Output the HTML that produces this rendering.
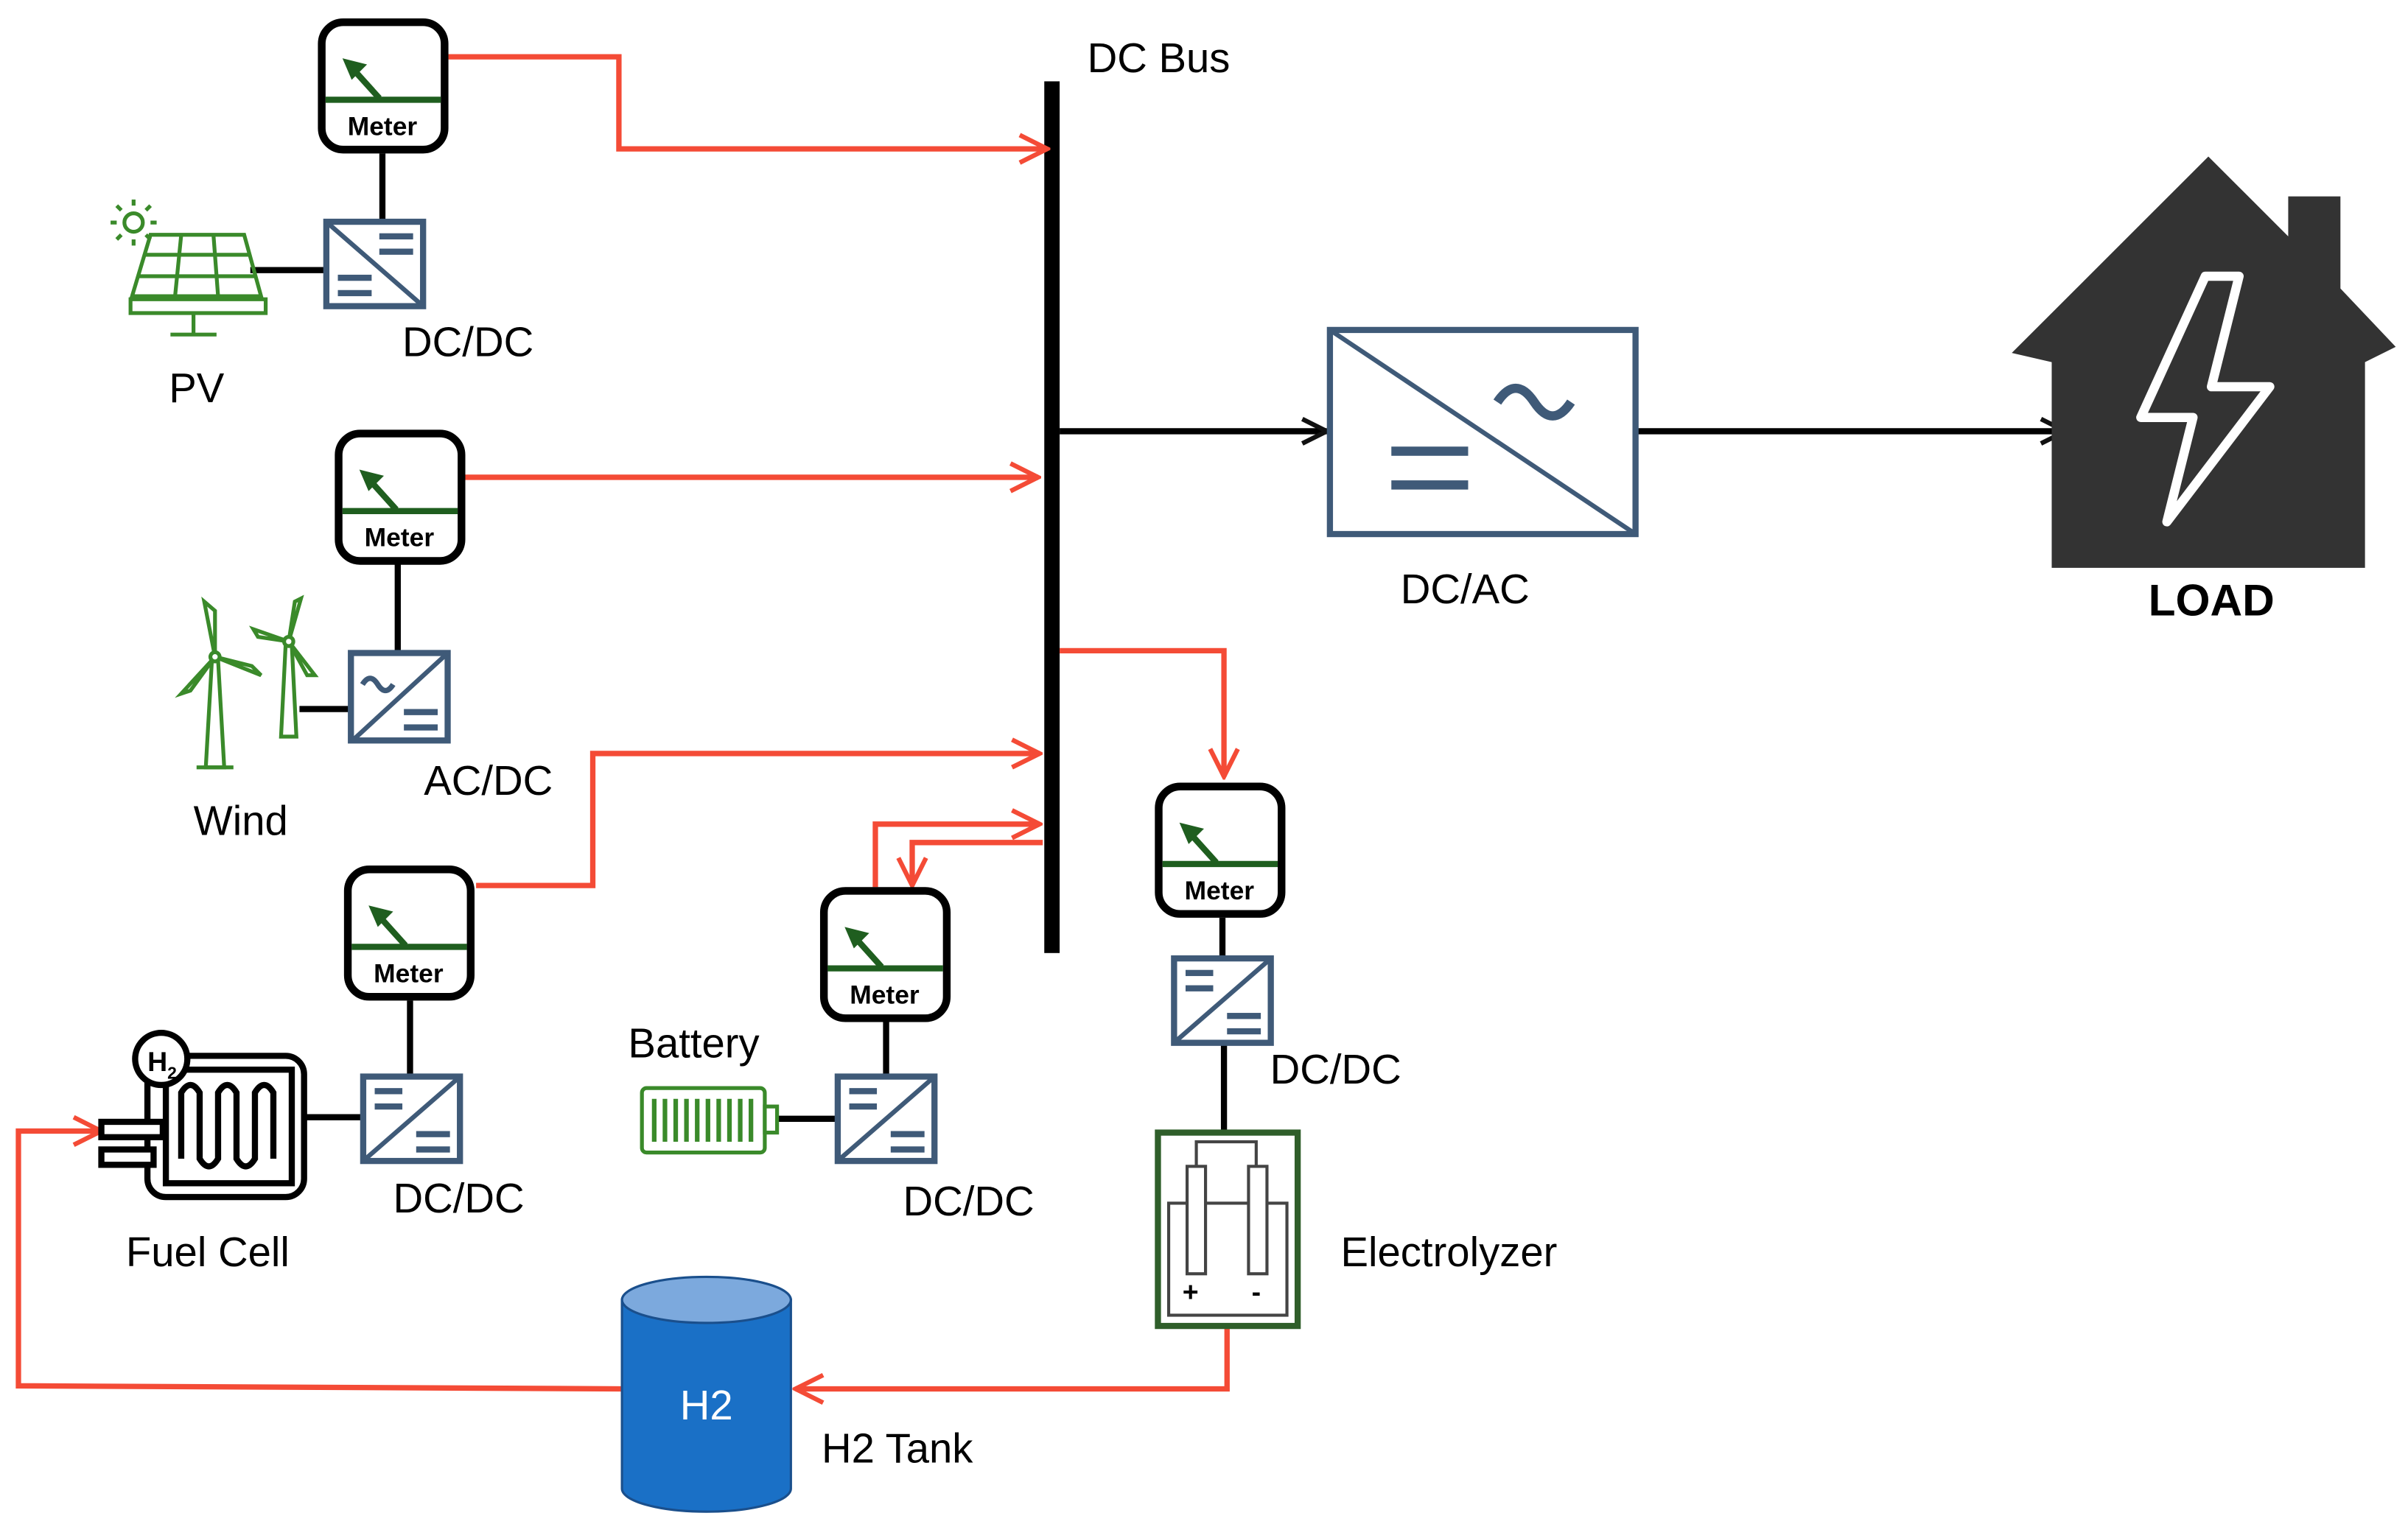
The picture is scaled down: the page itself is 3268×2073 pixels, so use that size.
<!DOCTYPE html>
<html><head><meta charset="utf-8"><style>html,body{margin:0;padding:0;background:#fff}svg{display:block}text{font-family:"Liberation Sans",sans-serif}</style></head><body>
<svg width="3268" height="2073" viewBox="0 0 1568 995" preserveAspectRatio="none" xmlns="http://www.w3.org/2000/svg">
<defs>
<marker id="ar" markerWidth="10" markerHeight="10" refX="9" refY="5" orient="auto" markerUnits="userSpaceOnUse" viewBox="0 0 10 10"><path d="M0,0 L10,5 L0,10" fill="none" stroke="#f44b36" stroke-width="2.5"/></marker>
<marker id="ab" markerWidth="20" markerHeight="20" refX="18" refY="10" orient="auto" markerUnits="userSpaceOnUse"><path d="M2,2 L18,10 L2,18" fill="none" stroke="#111" stroke-width="3"/></marker>
<marker id="arl" markerWidth="22" markerHeight="22" refX="20" refY="11" orient="auto" markerUnits="userSpaceOnUse"><path d="M2,2 L20,11 L2,20" fill="none" stroke="#f44b36" stroke-width="3"/></marker>
<g id="meter">
<rect x="2.5" y="2.5" width="80" height="83" rx="14" fill="#fff" stroke="#000" stroke-width="5"/>
<line x1="5" y1="53" x2="80" y2="53" stroke="#1f5e1f" stroke-width="4"/>
<line x1="40" y1="52" x2="22" y2="32" stroke="#1f5e1f" stroke-width="4"/>
<path d="M16,26 L32,30 L22,40 Z" fill="#1f5e1f"/>
<text x="42" y="76" font-size="17" font-weight="bold" text-anchor="middle">Meter</text>
</g>
<g id="dcdc">
<rect x="1.5" y="1.5" width="63" height="55" fill="#fff" stroke="#3f5a78" stroke-width="4"/>
<line x1="2" y1="2" x2="64" y2="56" stroke="#3f5a78" stroke-width="3"/>
<rect x="36" y="9" width="22" height="4" fill="#3f5a78"/><rect x="36" y="19" width="22" height="4" fill="#3f5a78"/>
<rect x="9" y="36" width="22" height="4" fill="#3f5a78"/><rect x="9" y="46" width="22" height="4" fill="#3f5a78"/>
</g>
<g id="dcdc2">
<rect x="1.5" y="1.5" width="63" height="55" fill="#fff" stroke="#3f5a78" stroke-width="4"/>
<line x1="64" y1="2" x2="2" y2="56" stroke="#3f5a78" stroke-width="3"/>
<rect x="9" y="9" width="18" height="4" fill="#3f5a78"/><rect x="9" y="19" width="18" height="4" fill="#3f5a78"/>
<rect x="36" y="37" width="22" height="4" fill="#3f5a78"/><rect x="36" y="47" width="22" height="4" fill="#3f5a78"/>
</g>
</defs>

<!-- DC bus -->
<rect x="680" y="53" width="10" height="568" fill="#000"/>
<text x="708" y="47" font-size="27">DC Bus</text>

<!-- red connectors -->
<g fill="none" stroke="#f44b36" stroke-width="3.5">
<polyline points="292,37 403,37 403,97 682,97" marker-end="url(#arl)"/>
<polyline points="303,311 676,311" marker-end="url(#arl)"/>
<polyline points="310,577 386,577 386,491 677,491" marker-end="url(#arl)"/>
<polyline points="570,578 570,537 677,537" marker-end="url(#arl)"/>
<polyline points="679,549 594,549 594,577" marker-end="url(#arl)"/>
<polyline points="690,424 797,424 797,506" marker-end="url(#arl)"/>
<polyline points="799,865 799,905 518,905" marker-end="url(#arl)"/>
<polyline points="405,905 12,903 12,737 66,737" marker-end="url(#arl)"/>
</g>

<!-- black connectors -->
<g stroke="#000" stroke-width="4" fill="none">
<line x1="690" y1="281" x2="864" y2="281" marker-end="url(#ab)"/>
<line x1="1066" y1="281" x2="1345" y2="281" marker-end="url(#ab)"/>
<line x1="249" y1="100" x2="249" y2="143"/>
<line x1="163" y1="176" x2="211" y2="176"/>
<line x1="259" y1="366" x2="259" y2="424"/>
<line x1="195" y1="462" x2="227" y2="462"/>
<line x1="267" y1="652" x2="267" y2="700"/>
<line x1="198" y1="728" x2="235" y2="728"/>
<line x1="577" y1="666" x2="577" y2="700"/>
<line x1="507" y1="729" x2="544" y2="729"/>
<line x1="796" y1="598" x2="796" y2="623"/>
<line x1="797" y1="679" x2="797" y2="737"/>
</g>

<!-- meters -->
<use href="#meter" x="207" y="12"/>
<use href="#meter" x="218" y="280"/>
<use href="#meter" x="224" y="564"/>
<use href="#meter" x="534" y="578"/>
<use href="#meter" x="752" y="510"/>

<!-- converters -->
<use href="#dcdc" x="211" y="143"/>
<use href="#dcdc2" x="235" y="700"/>
<use href="#dcdc2" x="544" y="700"/>
<use href="#dcdc2" x="763" y="623"/>
<g transform="translate(227,424)">
<rect x="1.5" y="1.5" width="63" height="57" fill="#fff" stroke="#3f5a78" stroke-width="4"/>
<line x1="64" y1="2" x2="2" y2="59" stroke="#3f5a78" stroke-width="3"/>
<path d="M9,22 q5,-8 10,0 t10,0" fill="none" stroke="#3f5a78" stroke-width="3.5"/>
<rect x="36" y="38" width="22" height="4" fill="#3f5a78"/><rect x="36" y="48" width="22" height="4" fill="#3f5a78"/>
</g>

<text x="262" y="232" font-size="27">DC/DC</text>
<text x="110" y="262" font-size="27">PV</text>
<text x="276" y="518" font-size="27">AC/DC</text>
<text x="126" y="544" font-size="27">Wind</text>
<text x="256" y="790" font-size="27">DC/DC</text>
<text x="82" y="825" font-size="27">Fuel Cell</text>
<text x="409" y="689" font-size="27">Battery</text>
<text x="588" y="792" font-size="27">DC/DC</text>
<text x="827" y="706" font-size="27">DC/DC</text>
<text x="873" y="825" font-size="27">Electrolyzer</text>
<text x="535" y="953" font-size="27">H2 Tank</text>
<text x="912" y="393" font-size="27">DC/AC</text>

<!-- PV panel -->
<g stroke="#3a8a2a" stroke-width="2.5" fill="none">
<circle cx="87" cy="145" r="6"/>
<path d="M87,134v-4 M87,156v4 M76,145h-4 M98,145h4 M79,137l-3,-3 M95,137l3,-3 M79,153l-3,3 M95,153l3,3"/>
<path d="M98,153 L159,153 L170,193 L86,193 Z"/>
<path d="M94,166 H162 M90,180 H166 M118,153 L114,193 M139,153 L142,193"/>
<rect x="85" y="195" width="88" height="9"/>
<path d="M126,204 V218 M111,218 H141"/>
</g>

<!-- Wind turbines -->
<g stroke="#3a8a2a" stroke-width="2.5" fill="#fff">
<path d="M138,430 L134,500 L146,500 L142,430 Z"/>
<path d="M140,428 L133,392 L140,398 Z M140,428 L118,452 L124,450 Z M140,428 L170,440 L164,434 Z"/>
<circle cx="140" cy="428" r="3"/>
<path d="M186,420 L183,480 L193,480 L190,420 Z"/>
<path d="M188,418 L196,390 L192,392 Z M188,418 L165,410 L168,415 Z M188,418 L205,440 L200,440 Z"/>
<circle cx="188" cy="418" r="3"/>
<path d="M128,500 H152" />
</g>

<!-- Fuel cell -->
<g stroke="#000" stroke-width="4" fill="#fff">
<rect x="96" y="688" width="102" height="92" rx="12"/>
<rect x="108" y="697" width="82" height="74"/>
<path d="M118,755 V712 q6,-10 12,0 V755 q6,10 12,0 V712 q6,-10 12,0 V755 q6,10 12,0 V712 q6,-10 12,0 V755" fill="none"/>
<rect x="66" y="731" width="40" height="10"/>
<rect x="66" y="749" width="34" height="10" />
<circle cx="105" cy="690" r="17"/>
</g>
<text x="96" y="698" font-size="18" font-weight="bold">H</text>
<text x="109" y="703" font-size="11" font-weight="bold">2</text>

<!-- Battery -->
<g stroke="#3a8a2a" stroke-width="2.5" fill="#fff">
<rect x="418" y="709" width="80" height="42" rx="3"/>
<rect x="498" y="721" width="8" height="17"/>
<path d="M426,716v28 M433,716v28 M440,716v28 M447,716v28 M454,716v28 M461,716v28 M468,716v28 M475,716v28 M482,716v28 M489,716v28" stroke-width="3"/>
</g>

<!-- Electrolyzer -->
<g>
<rect x="754" y="738" width="91" height="126" fill="#fff" stroke="#2f5e2a" stroke-width="4"/>
<rect x="761" y="784" width="77" height="73" fill="#fff" stroke="#444" stroke-width="2"/>
<path d="M779,760 V744 H818 V760" fill="none" stroke="#444" stroke-width="2"/>
<rect x="773" y="760" width="12" height="70" fill="#fff" stroke="#444" stroke-width="2"/>
<rect x="813" y="760" width="12" height="70" fill="#fff" stroke="#444" stroke-width="2"/>
<text x="770" y="848" font-size="18" font-weight="bold">+</text>
<text x="815" y="848" font-size="18" font-weight="bold">-</text>
</g>

<!-- H2 tank -->
<g>
<path d="M405,847 V970 A55,15 0 0 0 515,970 V847 Z" fill="#1a70c6" stroke="#1a4f8c" stroke-width="1.5"/>
<ellipse cx="460" cy="847" rx="55" ry="15" fill="#7ca9dd" stroke="#1a4f8c" stroke-width="1.5"/>
<text x="460" y="925" font-size="27" fill="#fff" text-anchor="middle">H2</text>
</g>

<!-- DC/AC -->
<g stroke="#3f5a78" fill="none">
<rect x="866" y="215" width="199" height="133" stroke-width="4" fill="#fff"/>
<line x1="866" y1="215" x2="1065" y2="348" stroke-width="3"/>
<rect x="906" y="291" width="50" height="6" fill="#3f5a78" stroke="none"/>
<rect x="906" y="313" width="50" height="6" fill="#3f5a78" stroke="none"/>
<path d="M975,262 q12,-18 24,0 t24,0" stroke-width="6"/>
</g>

<!-- House -->
<g>
<path d="M1310,230 L1438,102 L1490,154 V128 H1524 V188 L1560,226 L1540,236 V370 H1336 V236 Z" fill="#333"/>
<path d="M1436,180 L1394,272 L1428,272 L1411,340 L1478,252 L1440,252 L1458,180 Z" fill="none" stroke="#fff" stroke-width="6" stroke-linejoin="round"/>
<text x="1440" y="401" font-size="29" font-weight="bold" text-anchor="middle">LOAD</text>
</g>
</svg>
</body></html>
